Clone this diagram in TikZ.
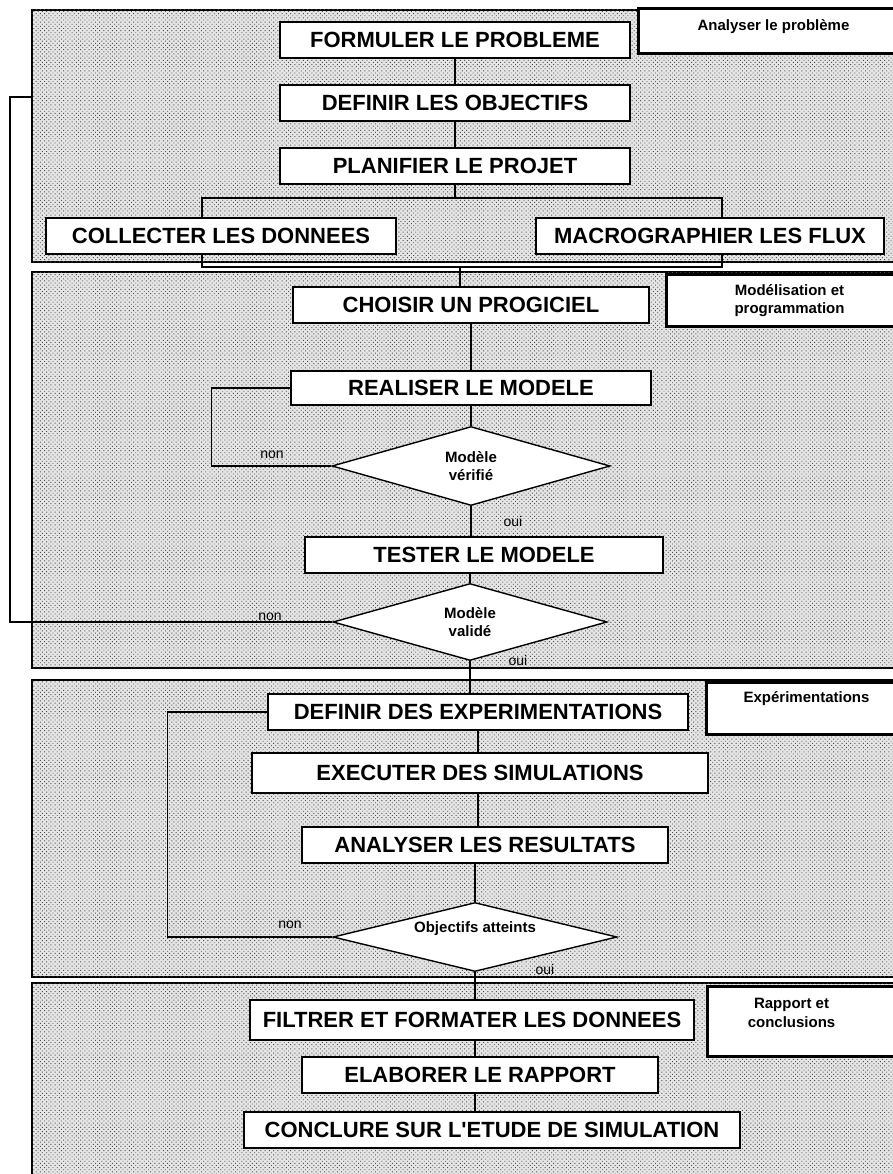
\documentclass[tikz,border=0pt]{standalone}
\usepackage{fontspec}
\setmainfont{Liberation Sans}
\usetikzlibrary{shapes.geometric,patterns.meta}
\begin{document}
\begin{tikzpicture}[x=1pt,y=-1pt,
  zone/.style={draw=black, line width=1.5pt, fill=gray!20,
    postaction={pattern={Dots[angle=45,distance=3pt,radius=0.65pt]}, pattern color=gray!60!black}},
  stepbox/.style={draw=black, line width=1.5pt, fill=white, inner sep=0pt,
    font=\bfseries\fontsize{22}{24}\selectfont},
  decision/.style={diamond, aspect=3.5, draw=black, line width=1.4pt, fill=white, inner sep=0pt,
    align=center, font=\bfseries\fontsize{15}{18}\selectfont},
  labbox/.style={draw=black, line width=3pt, fill=white, inner sep=0pt, anchor=north west,
    font=\bfseries\fontsize{15}{18}\selectfont},
  flow/.style={draw=black, line width=1.6pt},
  answer/.style={inner sep=0pt, font=\fontsize{14}{16}\selectfont, text=black}
]
\useasboundingbox (0,0) rectangle (893,1174);
\clip (0,0) rectangle (893,1174);

% the four phases
\path[zone] (32,10) rectangle (910,262);
\path[zone] (32,272) rectangle (910,668);
\path[zone] (32,680) rectangle (910,977);
\path[zone] (32,983) rectangle (910,1190);

% phase titles
\node[labbox] (lab1) at (637,7)
  {\parbox[b][45pt][t]{270pt}{\centering\vspace*{11pt}Analyser le problème}};
\node[labbox] (lab2) at (665,273)
  {\parbox[b][52pt][t]{246pt}{\centering\vspace*{10pt}Modélisation et\\programmation}};
\node[labbox] (lab3) at (705,681)
  {\parbox[b][52pt][t]{200pt}{\centering\vspace*{9pt}Expérimentations}};
\node[labbox] (lab4) at (706,985)
  {\parbox[b][70pt][t]{200pt}{\raggedright\vspace*{12pt}\makebox[168pt]{Rapport et}\\[1pt]\makebox[168pt]{conclusions}}};

% phase 1: analysis
\node[stepbox, minimum width=350, minimum height=36] (formuler) at (455,40) {FORMULER LE PROBLEME};
\node[stepbox, minimum width=350, minimum height=36] (objectifs) at (455,103) {DEFINIR LES OBJECTIFS};
\node[stepbox, minimum width=350, minimum height=36] (planifier) at (455,166) {PLANIFIER LE PROJET};
\node[stepbox, minimum width=350, minimum height=36] (collecter) at (221,236) {COLLECTER LES DONNEES};
\node[stepbox, minimum width=348, minimum height=36] (macro) at (710,236) {MACROGRAPHIER LES FLUX};

\coordinate (forkL) at (202,198);
\coordinate (forkR) at (722,198);
\coordinate (joinL) at (202,267);
\coordinate (joinR) at (722,267);
\coordinate (joinM) at (460,267);

\draw[flow] (formuler.south) -- (objectifs.north);
\draw[flow] (objectifs.south) -- (planifier.north);
\draw[flow] (planifier.south) -- (planifier.south |- forkL);
\draw[flow] (collecter.north -| forkL) -- (forkL) -- (forkR) -- (macro.north -| forkR);
\draw[flow] (collecter.south -| joinL) -- (joinL) -- (joinR) -- (macro.south -| joinR);

% phase 2: modelling
\node[stepbox, minimum width=356, minimum height=36] (choisir) at (471,305) {CHOISIR UN PROGICIEL};
\node[stepbox, minimum width=360, minimum height=34] (realiser) at (471,388) {REALISER LE MODELE};
\node[decision, minimum width=278, minimum height=79] (verifie) at (471,466) {Modèle\\vérifié};
\node[stepbox, minimum width=358, minimum height=36] (tester) at (484,555) {TESTER LE MODELE};
\node[decision, minimum width=274, minimum height=77] (valide) at (470,622) {Modèle\\validé};

\draw[flow] (joinM) -- (choisir.north -| joinM);
\draw[flow] (choisir.south) -- (realiser.north);
\draw[flow] (realiser.south) -- (verifie.north);
\draw[flow] (verifie.south) -- (verifie.south |- tester.north);
\draw[flow] (tester.south -| valide.north) -- (valide.north);
\draw[flow] (verifie.west) -- ++(-120,0) |- (realiser.west);

\coordinate (retour) at (32,97);
\coordinate (retourHaut) at (10,97);
\coordinate (retourBas) at (10,622);
\draw[flow] (valide.west) -- (retourBas) -- (retourHaut) -- (retour);

\node[answer] (non1) at (272,455) {non};
\node[answer] (oui1) at (513,521) {oui};
\node[answer] (non2) at (270,617) {non};
\node[answer] (oui2) at (518,660) {oui};

% phase 3: experiments
\node[stepbox, minimum width=420, minimum height=36] (definirexp) at (478,712) {DEFINIR DES EXPERIMENTATIONS};
\node[stepbox, minimum width=456, minimum height=40] (executer) at (480,773) {EXECUTER DES SIMULATIONS};
\node[stepbox, minimum width=366, minimum height=36] (analyser) at (485,845) {ANALYSER LES RESULTATS};
\node[decision, minimum width=284, minimum height=69] (atteints) at (475,937) {Objectifs atteints\\[2pt]\mbox{}};

\draw[flow] (valide.south) -- (valide.south |- definirexp.north);
\draw[flow] (definirexp.south) -- (definirexp.south |- executer.north);
\draw[flow] (executer.south -| definirexp.south) -- (analyser.north -| definirexp.south);
\draw[flow] (analyser.south -| atteints.north) -- (atteints.north);
\draw[flow] (atteints.west) -- ++(-165,0) |- (definirexp.west);

\node[answer] (non3) at (290,925) {non};
\node[answer] (oui3) at (545,969) {oui};

% phase 4: report
\node[stepbox, minimum width=444, minimum height=40] (filtrer) at (472,1020) {FILTRER ET FORMATER LES DONNEES};
\node[stepbox, minimum width=356, minimum height=36] (elaborer) at (480,1075) {ELABORER LE RAPPORT};
\node[stepbox, minimum width=496, minimum height=36] (conclure) at (492,1130) {CONCLURE SUR L\textquotesingle ETUDE DE SIMULATION};

\draw[flow] (atteints.south) -- (atteints.south |- filtrer.north);
\draw[flow] (filtrer.south -| atteints.south) -- (elaborer.north -| atteints.south);
\draw[flow] (elaborer.south -| atteints.south) -- (conclure.north -| atteints.south);
\end{tikzpicture}
\end{document}
